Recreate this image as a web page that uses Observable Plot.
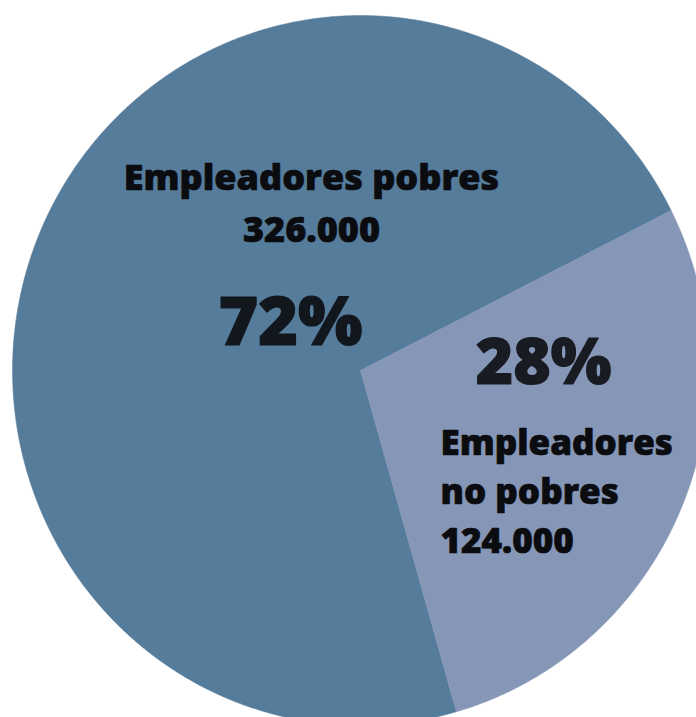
<!DOCTYPE html>
<html>
<head>
<meta charset="utf-8">
<script src="https://cdn.jsdelivr.net/npm/d3@7"></script>
<script src="https://cdn.jsdelivr.net/npm/@observablehq/plot@0.6"></script>
<style>
  html, body { margin: 0; padding: 0; background: #ffffff; }
  #chart { width: 696px; height: 717px; overflow: hidden; }
  svg { display: block; }
</style>
</head>
<body>
<div id="chart"></div>
<script>
// ---- data ----
const categories = ["Empleadores pobres", "Empleadores no pobres"];
const values = [326000, 124000];
const percents = [72, 28];
const nameLines = [["Empleadores pobres"], ["Empleadores", "no pobres"]];
const colors = ["#567c9c", "#8696b7"];

// ---- derived ----
const es = d3.formatLocale({decimal: ",", thousands: ".", grouping: [3], currency: ["", ""]});
const fmtNum = es.format(",");

const startAngle = 164 * Math.PI / 180; // clockwise from north
const pie = d3.pie().sort(null).value(d => d.pct)
  .startAngle(startAngle).endAngle(startAngle + 2 * Math.PI);
const rows = categories.map((c, i) => ({category: c, value: values[i], pct: percents[i], color: colors[i]}));
const arcs = pie(rows);

// polygon outlines of each slice in unit-circle coordinates
const slicePts = [];
arcs.forEach(a => {
  slicePts.push({category: a.data.category, color: a.data.color, x: 0, y: 0});
  const n = Math.ceil((a.endAngle - a.startAngle) / (Math.PI / 720));
  for (let k = 0; k <= n; k++) {
    const t = a.startAngle + (a.endAngle - a.startAngle) * k / n;
    slicePts.push({category: a.data.category, color: a.data.color, x: Math.sin(t), y: Math.cos(t)});
  }
  slicePts.push({category: a.data.category, color: a.data.color, x: 0, y: 0});
});

const font = "'Open Sans', 'Noto Sans', sans-serif";

const labelBig = [nameLines[0].join("\n") + "\n" + fmtNum(values[0])];
const labelSmall = [nameLines[1].join("\n") + "\n" + fmtNum(values[1])];
const pctBig = [percents[0] + "%"];
const pctSmall = [percents[1] + "%"];

const chart = Plot.plot({
  width: 696,
  height: 717,
  margin: 0,
  x: {domain: [-1, 1], range: [12, 708], axis: null},
  y: {domain: [-1, 1], range: [725, 15], axis: null},
  style: {background: "transparent", fontFamily: font},
  marks: [
    Plot.line(slicePts, {x: "x", y: "y", z: "category", fill: "color", stroke: "color", strokeWidth: 0.5, curve: "linear"}),
    Plot.text(labelBig, {
      text: d => d, frameAnchor: "top-left", dx: 311, dy: 241,
      textAnchor: "middle", lineAnchor: "bottom", lineHeight: 1.44,
      fontSize: 36, fontWeight: 800, fill: "#0b0c0f", stroke: "#0b0c0f", strokeWidth: 0.7, fontFamily: font
    }),
    Plot.text(pctBig, {
      text: d => d, frameAnchor: "top-left", dx: 290, dy: 344,
      textAnchor: "middle", lineAnchor: "bottom",
      fontSize: 68, fontWeight: 800, fill: "#12161d", stroke: "#12161d", strokeWidth: 1.2, fontFamily: font
    }),
    Plot.text(pctSmall, {
      text: d => d, frameAnchor: "top-left", dx: 543, dy: 383,
      textAnchor: "middle", lineAnchor: "bottom",
      fontSize: 64, fontWeight: 800, fill: "#181b22", stroke: "#181b22", strokeWidth: 1.2, fontFamily: font
    }),
    Plot.text(labelSmall, {
      text: d => d, frameAnchor: "top-left", dx: 440, dy: 552,
      textAnchor: "start", lineAnchor: "bottom", lineHeight: 1.39,
      fontSize: 35, fontWeight: 800, fill: "#0b0c0f", stroke: "#0b0c0f", strokeWidth: 0.7, fontFamily: font
    })
  ]
});
document.getElementById("chart").appendChild(chart);
</script>
</body>
</html>
